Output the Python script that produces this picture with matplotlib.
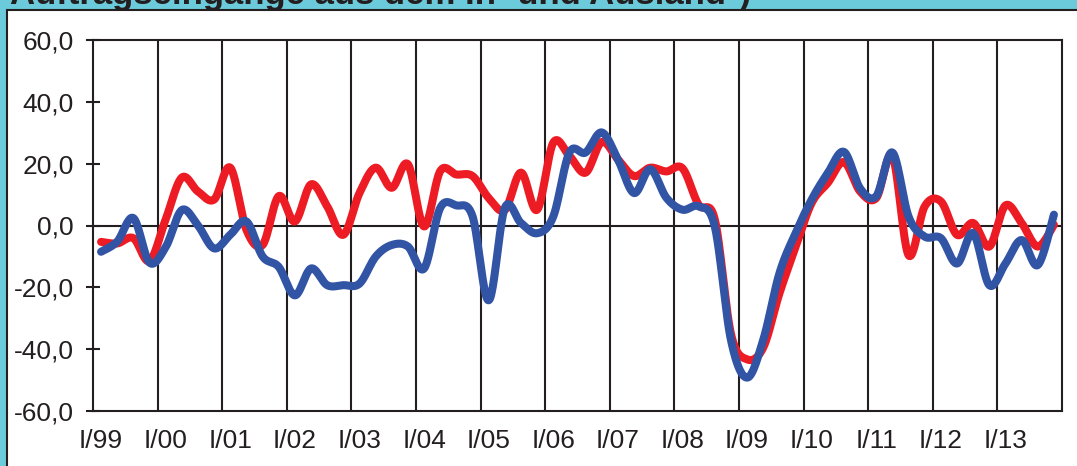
import numpy as np
import matplotlib
matplotlib.use("Agg")
import matplotlib.pyplot as plt
from matplotlib.patches import Rectangle

plt.rcParams['font.family'] = ['Liberation Sans', 'DejaVu Sans']

# Quarterly year-on-year changes, I/1999 .. IV/2013
years = [f"I/{y % 100:02d}" for y in range(1999, 2014)]

inland = [-5.3, -5.8, -4.1, -11.5, 2.0, 15.5, 11.0, 8.4, 18.7, -1.4, -6.3, 9.5,
          1.3, 13.3, 6.2, -3.0, 10.5, 18.7, 12.2, 19.8, -0.3, 17.6, 16.5, 16.0,
          8.9, 5.0, 17.1, 5.1, 26.8, 22.5, 17.1, 27.0, 21.4, 16.0, 18.7, 17.5,
          18.5, 6.7, 2.0, -35.0, -43.3, -39.5, -22.0, -7.0, 7.3, 13.8, 20.5, 11.0,
          8.9, 22.5, -9.6, 6.2, 7.8, -3.0, 0.8, -6.8, 6.5, 0.8, -6.8, 0.2]

ausland = [-8.5, -5.2, 2.4, -12.0, -7.0, 5.0, 0.0, -7.4, -3.0, 1.3, -10.0, -13.4,
           -22.6, -13.9, -19.3, -19.3, -18.8, -10.1, -6.3, -6.8, -13.9, 5.7, 6.5, 3.0,
           -24.2, 5.7, 0.8, -2.5, 2.9, 23.6, 23.6, 30.1, 21.4, 10.5, 18.2, 9.0,
           5.1, 6.2, -0.3, -37.0, -49.2, -37.0, -15.5, -2.5, 8.4, 17.0, 23.8, 12.0,
           9.5, 23.6, 2.9, -3.6, -4.1, -12.3, -2.5, -19.3, -12.3, -4.7, -12.8, 3.5]

y_ticks = [-60, -40, -20, 0, 20, 40, 60]
y_labels = ["-60,0", "-40,0", "-20,0", "0,0", "20,0", "40,0", "60,0"]

RED = "#ED1C24"
BLUE = "#3254A5"
CYAN = "#6CCBDA"
INK = "#231F20"


def smooth(xs, ys, n=24):
    """Bezier smoothing through every point (Catmull-Rom style)."""
    xs = np.asarray(xs, float)
    ys = np.asarray(ys, float)
    px = np.concatenate([[xs[0]], xs, [xs[-1]]])
    py = np.concatenate([[ys[0]], ys, [ys[-1]]])
    out_x, out_y = [], []
    t = np.linspace(0, 1, n, endpoint=False)
    for k in range(1, len(px) - 2):
        p0 = np.array([px[k], py[k]])
        p3 = np.array([px[k + 1], py[k + 1]])
        c1 = p0 + (np.array([px[k + 1], py[k + 1]]) - np.array([px[k - 1], py[k - 1]])) / 6
        c2 = p3 - (np.array([px[k + 2], py[k + 2]]) - np.array([px[k], py[k]])) / 6
        b = ((1 - t) ** 3)[:, None] * p0 + (3 * (1 - t) ** 2 * t)[:, None] * c1 \
            + (3 * (1 - t) * t ** 2)[:, None] * c2 + (t ** 3)[:, None] * p3
        out_x.extend(b[:, 0])
        out_y.extend(b[:, 1])
    out_x.append(xs[-1])
    out_y.append(ys[-1])
    return np.array(out_x), np.array(out_y)


W, H = 1077, 466
fig = plt.figure(figsize=(W / 100, H / 100), dpi=100, facecolor=CYAN)

# Heading, partly hidden behind the white panel
fig.text(10 / W, 1 - 4 / H, "Auftragseingänge aus dem In- und Ausland*)",
         fontsize=25, fontweight='bold', color=INK, ha='left', va='baseline',
         zorder=-3)

# White panel with dark border on its left and top edge
panel = Rectangle((7 / W, -0.2), 1.5, 1.2 - 10 / H, transform=fig.transFigure,
                  facecolor='white', edgecolor=INK, linewidth=1.5, zorder=-2)
fig.patches.append(panel)

ax = fig.add_axes([93 / W, (H - 411) / H, (1062 - 93) / W, (411 - 40) / H])
ax.set_facecolor('white')

n = len(inland)
q = np.arange(n)
ax.set_xlim(-0.5, n - 0.5)
ax.set_ylim(-60, 60)

for b in np.arange(3.5, n - 1, 4):
    ax.axvline(b, color=INK, linewidth=1.5, zorder=1)
ax.axhline(0, color=INK, linewidth=1.5, zorder=1)

sx, sy = smooth(q, inland)
ax.plot(sx, sy, color=RED, linewidth=5.8, solid_capstyle='round',
        solid_joinstyle='round', zorder=3)
sx, sy = smooth(q, ausland)
ax.plot(sx, sy, color=BLUE, linewidth=5.8, solid_capstyle='round',
        solid_joinstyle='round', zorder=4)

ax.set_yticks(y_ticks)
ax.set_yticklabels(y_labels)
ax.set_xticks(np.arange(0, n, 4))
ax.set_xticklabels(years)
ax.tick_params(axis='y', direction='inout', length=10, width=1.5, color=INK,
               labelsize=19, labelcolor=INK, pad=9)
ax.tick_params(axis='x', length=0, labelsize=19, labelcolor=INK, pad=13)

for s in ax.spines.values():
    s.set_color(INK)
    s.set_linewidth(1.5)

fig.savefig("out.png", dpi=100, facecolor=CYAN)
